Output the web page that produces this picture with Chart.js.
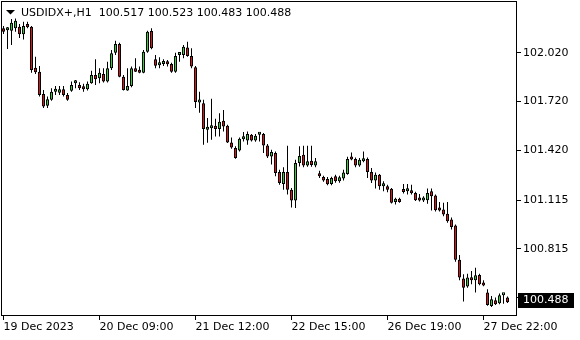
<!DOCTYPE html>
<html>
<head>
<meta charset="utf-8">
<script src="https://cdn.jsdelivr.net/npm/chart.js@4.4.0/dist/chart.umd.min.js"></script>
<style>
html, body { margin: 0; padding: 0; background: #fff; }
canvas { display: block; }
</style>
</head>
<body>
<canvas id="chartCanvas" width="580" height="340"></canvas>
<script>
const symbolName = 'USDIDX+,H1';

// hourly bars
const opens = [
102.170,102.159,102.155,102.170,102.180,102.133,102.196,102.180,101.928,101.904,
101.767,101.694,101.731,101.780,101.775,101.796,101.761,101.786,101.833,101.822,
101.812,101.796,101.833,101.884,101.864,101.890,101.843,101.925,102.020,102.074,
101.873,101.788,101.816,101.925,101.914,101.898,102.026,102.153,101.980,101.943,
101.951,101.962,101.951,101.904,102.006,102.006,102.053,102.000,101.931,101.715,
101.710,101.547,101.557,101.571,101.551,101.602,101.571,101.469,101.435,101.420,
101.489,101.481,101.516,101.481,101.516,101.521,101.451,101.383,101.404,101.288,
101.214,101.288,101.179,101.112,101.343,101.394,101.328,101.357,101.328,101.277,
101.257,101.245,101.214,101.261,101.230,101.247,101.276,101.374,101.367,101.328,
101.353,101.367,101.287,101.236,101.271,101.200,101.200,101.184,101.104,101.123,
101.179,101.170,101.165,101.159,101.124,101.112,101.114,101.169,101.143,101.063,
101.057,101.031,100.996,100.959,100.749,100.634,100.584,100.639,100.622,100.655,
100.598,100.547,100.465,100.500,100.481,100.530,100.517
];
const highs = [
102.184,102.178,102.227,102.231,102.196,102.210,102.210,102.184,101.996,101.939,
101.792,101.751,101.802,101.816,101.816,101.816,101.773,101.843,101.853,101.839,
101.829,101.843,101.910,101.980,101.925,101.925,101.965,102.037,102.094,102.082,
101.884,101.925,101.935,101.986,101.935,102.037,102.155,102.170,102.006,101.992,
101.980,101.976,101.959,102.020,102.020,102.067,102.088,102.047,101.939,101.780,
101.731,101.620,101.737,101.614,101.649,101.669,101.578,101.500,101.445,101.500,
101.533,101.536,101.521,101.521,101.527,101.527,101.459,101.424,101.414,101.302,
101.316,101.449,101.190,101.363,101.445,101.449,101.449,101.449,101.374,101.296,
101.265,101.257,101.259,101.271,101.265,101.302,101.382,101.408,101.377,101.374,
101.414,101.377,101.312,101.284,101.276,101.230,101.210,101.190,101.130,101.130,
101.214,101.214,101.210,101.167,101.153,101.138,101.186,101.186,101.149,101.104,
101.098,101.104,101.008,100.965,100.777,100.659,100.663,100.679,100.700,100.663,
100.622,100.567,100.526,100.516,100.541,100.536,100.523
];
const lows = [
102.135,102.043,102.067,102.149,102.110,102.102,102.170,101.898,101.890,101.751,
101.680,101.680,101.726,101.761,101.761,101.751,101.726,101.781,101.802,101.792,
101.781,101.788,101.829,101.822,101.833,101.837,101.837,101.914,102.006,101.870,
101.788,101.786,101.808,101.902,101.894,101.894,102.020,102.041,101.925,101.925,
101.939,101.935,101.898,101.898,101.965,101.986,101.996,101.925,101.680,101.651,
101.455,101.467,101.486,101.506,101.506,101.536,101.465,101.431,101.369,101.414,
101.475,101.455,101.475,101.473,101.475,101.404,101.374,101.333,101.261,101.210,
101.179,101.149,101.069,101.067,101.322,101.316,101.320,101.320,101.316,101.251,
101.227,101.206,101.206,101.222,101.222,101.235,101.271,101.360,101.316,101.320,
101.347,101.251,101.220,101.186,101.179,101.169,101.163,101.094,101.088,101.098,
101.155,101.149,101.149,101.109,101.106,101.103,101.092,101.051,101.045,101.045,
101.016,100.976,100.935,100.737,100.622,100.492,100.577,100.598,100.547,100.592,
100.586,100.466,100.459,100.471,100.475,100.479,100.483
];
const closes = [
102.149,102.159,102.204,102.216,102.133,102.184,102.176,101.914,101.900,101.761,
101.690,101.735,101.781,101.796,101.796,101.761,101.731,101.822,101.833,101.802,
101.796,101.829,101.884,101.857,101.898,101.843,101.925,102.017,102.074,101.873,
101.792,101.816,101.925,101.904,101.898,102.026,102.149,102.047,101.941,101.959,
101.965,101.949,101.904,102.000,102.006,102.057,102.000,101.935,101.718,101.715,
101.551,101.565,101.571,101.551,101.596,101.567,101.469,101.438,101.374,101.492,
101.489,101.521,101.481,101.510,101.516,101.451,101.383,101.410,101.282,101.220,
101.288,101.179,101.112,101.343,101.386,101.328,101.353,101.331,101.353,101.261,
101.236,101.212,101.251,101.230,101.255,101.284,101.367,101.365,101.328,101.363,
101.367,101.287,101.236,101.271,101.200,101.200,101.179,101.098,101.123,101.104,
101.165,101.170,101.157,101.114,101.112,101.112,101.159,101.138,101.053,101.051,
101.026,100.985,100.950,100.749,100.639,100.577,100.639,100.622,100.653,100.598,
100.590,100.471,100.506,100.475,100.530,100.530,100.488
];

const timeLabels = ['19 Dec 2023', '20 Dec 09:00', '21 Dec 12:00', '22 Dec 15:00', '26 Dec 19:00', '27 Dec 22:00'];
const timeLabelBars = [0, 24, 48, 72, 96, 120];
const priceTicks = [102.020, 101.720, 101.420, 101.115, 100.815, 100.515];

const bullColor = '#2fd22f';
const bearColor = '#dc1414';

Chart.defaults.font.family = "'DejaVu Sans', sans-serif";
Chart.defaults.font.size = 11;
Chart.defaults.color = '#000';

const bodies = opens.map((o, i) => ({x: i, y: [o, closes[i]]}));
const wicks = lows.map((l, i) => ({x: i, y: [l, highs[i]]}));
const bodyColors = opens.map((o, i) => closes[i] >= o ? bullColor : bearColor);

// frame, header line and the last price box, MT4 style
const terminalPlugin = {
  id: 'terminal',
  afterDraw(chart) {
    const {ctx, chartArea: a} = chart;
    const last = opens.length - 1;
    ctx.save();
    ctx.strokeStyle = '#000';
    ctx.lineWidth = 1;
    ctx.strokeRect(a.left + 0.5, a.top + 0.5, a.right - a.left - 1, a.bottom - a.top - 1);

    ctx.fillStyle = '#000';
    ctx.beginPath();
    ctx.moveTo(6, 10);
    ctx.lineTo(15, 10);
    ctx.lineTo(10.5, 14.5);
    ctx.closePath();
    ctx.fill();

    ctx.font = "11px 'DejaVu Sans'";
    ctx.textBaseline = 'alphabetic';
    ctx.textAlign = 'left';
    const header = symbolName + '  ' +
      [opens[last], highs[last], lows[last], closes[last]].map(v => v.toFixed(3)).join(' ');
    ctx.fillText(header, 21, 16);

    const y = Math.round(chart.scales.y.getPixelForValue(closes[last]));
    ctx.fillRect(518, y - 9, 56, 15);
    ctx.fillStyle = '#fff';
    ctx.textBaseline = 'middle';
    ctx.fillText(closes[last].toFixed(3), 523, y - 1.5);
    ctx.restore();
  }
};

const ctx = document.getElementById('chartCanvas').getContext('2d');

const chart = new Chart(ctx, {
  type: 'bar',
  data: {
    datasets: [{
      label: 'body',
      data: bodies,
      backgroundColor: bodyColors,
      borderColor: '#000',
      borderWidth: 1,
      borderSkipped: false,
      barThickness: 3,
      minBarLength: 3,
      inflateAmount: 0,
      grouped: false
    }, {
      label: 'wick',
      data: wicks,
      backgroundColor: '#000',
      borderWidth: 0,
      barThickness: 1,
      inflateAmount: 0,
      grouped: false
    }]
  },
  options: {
    responsive: false,
    animation: false,
    layout: {autoPadding: false, padding: {left: 1, top: 1, right: 0, bottom: 0}},
    plugins: {
      legend: {display: false},
      tooltip: {enabled: false}
    },
    scales: {
      x: {
        type: 'linear',
        min: -0.625,
        max: 128.375,
        offset: false,
        afterBuildTicks: s => { s.ticks = timeLabelBars.map(v => ({value: v})); },
        afterFit: s => { s.height = 24; s.paddingLeft = 0; s.paddingRight = 0; },
        grid: {offset: false, drawOnChartArea: false, color: '#000', tickLength: 4},
        border: {display: false},
        ticks: {
          align: 'start',
          maxRotation: 0,
          minRotation: 0,
          autoSkip: false,
          padding: 1,
          color: '#000',
          callback: (v, i) => timeLabels[i]
        }
      },
      y: {
        position: 'right',
        min: 100.403,
        max: 102.338,
        afterBuildTicks: s => { s.ticks = priceTicks.map(v => ({value: v})); },
        afterFit: s => { s.width = 63; s.paddingTop = 0; s.paddingBottom = 0; },
        grid: {drawOnChartArea: false, color: '#000', tickLength: 4},
        border: {display: false},
        ticks: {
          padding: 2,
          color: '#000',
          callback: v => v.toFixed(3)
        }
      }
    }
  },
  plugins: [terminalPlugin]
});
</script>
</body>
</html>
